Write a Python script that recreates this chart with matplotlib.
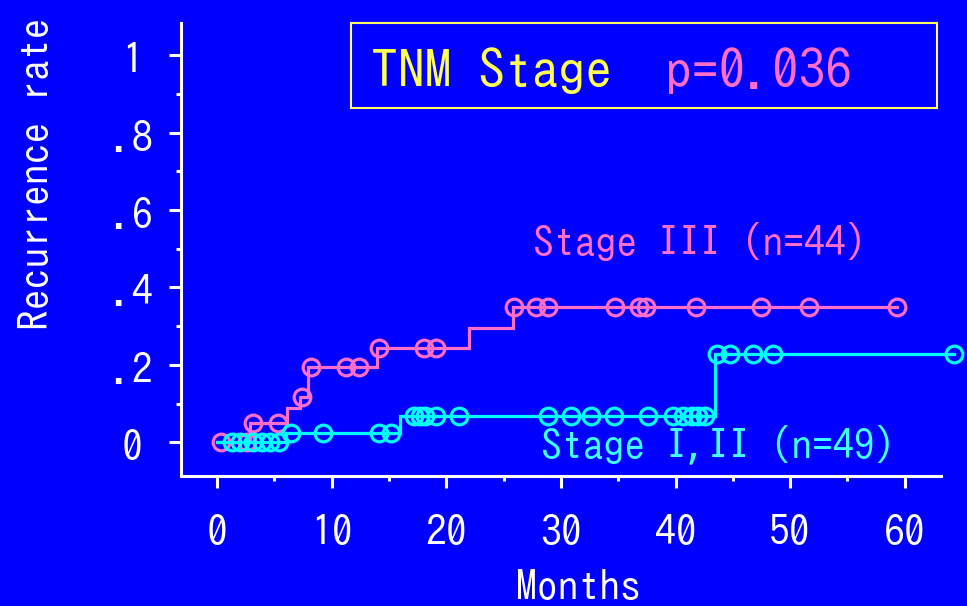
import numpy as np
import matplotlib
matplotlib.use("Agg")
import matplotlib.pyplot as plt
import matplotlib.transforms as mtransforms
from matplotlib.patches import Rectangle
from matplotlib.ticker import FixedLocator

plt.rcParams["font.family"] = ["IPAGothic", "DejaVu Sans"]

# Cumulative recurrence (Kaplan-Meier style) by TNM stage
stage3_step_months = [0, 2.9, 6.08, 7.24, 7.91, 13.98, 21.95, 25.84, 59.36]
stage3_step_rates = [0, 0.051, 0.088, 0.118, 0.194, 0.243, 0.295, 0.350, 0.350]
stage3_censored = [0.35, 2.59, 3.17, 5.35, 7.44, 8.2, 11.22, 12.38, 14.13, 18.03,
                   19.07, 25.93, 27.79, 28.84, 34.71, 36.83, 37.47, 41.83, 47.44,
                   51.65, 59.36]

stage12_step_months = [0, 6.02, 15.96, 43.43, 64.27]
stage12_step_rates = [0, 0.025, 0.068, 0.228, 0.228]
stage12_censored = [1.31, 2.0, 3.14, 3.92, 4.62, 5.41, 6.5, 9.22, 14.15, 15.15,
                    17.21, 17.7, 18.14, 19.07, 21.13, 28.84, 30.87, 32.62, 34.62,
                    37.61, 39.74, 40.67, 41.4, 41.97, 42.56, 43.58, 44.74, 46.77,
                    48.51, 64.27]

x_ticks = [0, 10, 20, 30, 40, 50, 60]
x_tick_labels = ["0", "10", "20", "30", "40", "50", "60"]
x_minor_ticks = [5, 15, 25, 35, 45, 55]
y_ticks = [0, 0.2, 0.4, 0.6, 0.8, 1.0]
y_tick_labels = ["0", ".2", ".4", ".6", ".8", "1"]
y_minor_ticks = [0.1, 0.3, 0.5, 0.7, 0.9]

label_stage3 = "Stage III (n=44)"
label_stage12 = "Stage I,II (n=49)"
title_left = "TNM Stage"
title_right = "p=0.036"

BLUE = "#0000ff"
PINK = "#ff6ec8"
CYAN = "#00ffff"
CYAN_TEXT = "#40ffff"
YELLOW = "#ffff55"
WHITE = "#ffffff"

W, H = 967, 606
fig = plt.figure(figsize=(W / 100, H / 100), dpi=100, facecolor=BLUE)


def fx(px):
    return px / W


def fy(py):
    return 1 - py / H


ax_l, ax_r, ax_t, ax_b = 180.5, 941, 23, 476
ax = fig.add_axes([fx(ax_l), fy(ax_b), (ax_r - ax_l) / W, (ax_b - ax_t) / H])
ax.set_facecolor(BLUE)
ax.set_xlim(-3.18, 63.16)
ax.set_ylim(-0.0865, 1.0826)


def step_value(months, rates, t):
    idx = np.searchsorted(np.asarray(months), np.asarray(t), side="right") - 1
    return np.asarray(rates)[idx]


for months, rates, censored, color in [
    (stage3_step_months, stage3_step_rates, stage3_censored, PINK),
    (stage12_step_months, stage12_step_rates, stage12_censored, CYAN),
]:
    ax.step(months, rates, where="post", color=color, lw=2.3, clip_on=False,
            solid_joinstyle="miter")
    ax.plot(censored, step_value(months, rates, censored), ls="none", marker="o",
            ms=12, mfc="none", mec=color, mew=2.3, clip_on=False)

for side in ["top", "right"]:
    ax.spines[side].set_visible(False)
for side in ["left", "bottom"]:
    ax.spines[side].set_color(WHITE)
    ax.spines[side].set_linewidth(2.2)
    ax.spines[side].set_capstyle("projecting")

ax.xaxis.set_major_locator(FixedLocator(x_ticks))
ax.xaxis.set_minor_locator(FixedLocator(x_minor_ticks))
ax.yaxis.set_major_locator(FixedLocator(y_ticks))
ax.yaxis.set_minor_locator(FixedLocator(y_minor_ticks))
ax.set_xticklabels(x_tick_labels)
ax.set_yticklabels(y_tick_labels)

ax.tick_params(which="major", direction="out", length=8.6, width=2.2, color=WHITE,
               labelcolor=WHITE, labelsize=30)
ax.tick_params(which="minor", direction="out", length=3.6, width=2.2, color=WHITE)
ax.tick_params(axis="x", which="major", pad=19)
ax.tick_params(axis="y", which="major", pad=26.3)

shift_down = mtransforms.ScaledTranslation(0, -5 / 100, fig.dpi_scale_trans)
for lbl in ax.get_yticklabels():
    lbl.set_horizontalalignment("center")
    lbl.set_verticalalignment("center")
    lbl.set_transform(lbl.get_transform() + shift_down)

# Axis titles
fig.text(fx(50), fy(174), "Recurrence rate", color=WHITE, fontsize=30, rotation=90,
         rotation_mode="anchor", ha="center", va="baseline")
fig.text(fx(578), fy(601), "Months", color=WHITE, fontsize=30, ha="center",
         va="baseline")

# Curve labels
fig.text(fx(533), fy(256.7), label_stage3, color=PINK, fontsize=30, ha="left",
         va="baseline")
fig.text(fx(541), fy(460), label_stage12, color=CYAN_TEXT, fontsize=30, ha="left",
         va="baseline")

# Boxed title with the log-rank p value
fig.patches.append(Rectangle((fx(351), fy(108)), (937 - 351) / W, (108 - 23) / H,
                             transform=fig.transFigure, fill=False, ec="#ffff66",
                             lw=1.5))
title_size = 38.5
advance = 0.5 * title_size * 100 / 72
fig.text(fx(371), fy(88.5), title_left, color=YELLOW, fontsize=title_size,
         ha="left", va="baseline")
fig.text(fx(371 + 11 * advance), fy(88.5), title_right, color=PINK,
         fontsize=title_size, ha="left", va="baseline")

fig.savefig("out.png", dpi=100, facecolor=BLUE)
